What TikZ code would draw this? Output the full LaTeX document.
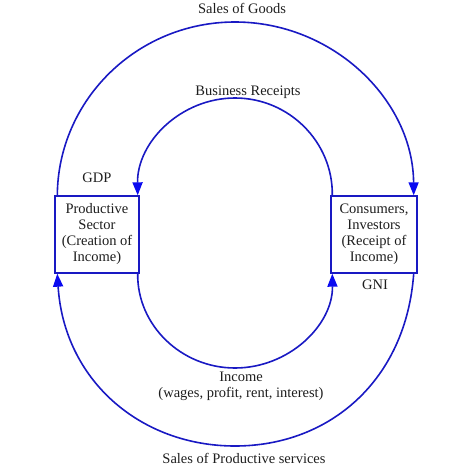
\documentclass[tikz,border=0pt]{standalone}
\usepackage{fontspec}
\setmainfont{Liberation Serif}
\usetikzlibrary{arrows.meta,calc}
\definecolor{flowblue}{RGB}{25,25,195}
\definecolor{tipblue}{RGB}{10,10,240}
\definecolor{txt}{RGB}{30,30,30}
\begin{document}
\begin{tikzpicture}[x=1pt,y=-1pt,
  sector/.style={draw=flowblue,line width=1.4pt,fill=white,minimum width=84pt,minimum height=77pt,inner sep=0pt,align=center,text=txt,font=\fontsize{14.5}{16}\selectfont},
  flow/.style={draw=flowblue,line width=1.6pt,-{Triangle[length=13pt,width=10pt,fill=tipblue,color=tipblue]}},
  lbl/.style={text=txt,inner sep=1pt,align=center,font=\fontsize{14.5}{16}\selectfont}]
\useasboundingbox (0,0) rectangle (474,474);
\node[sector] (L) at (97,234.5) {Productive\\Sector\\(Creation of\\Income)};
\node[sector,minimum width=86pt] (R) at (374,234.5) {Consumers,\\Investors\\(Receipt of\\Income)};
\coordinate (LTo) at ($(L.north west)+(3,0)$);
\coordinate (LTi) at ($(L.north east)+(-2,0)$);
\coordinate (LBi) at ($(L.south east)+(-2,0)$);
\coordinate (LBo) at ($(L.south west)+(3,0)$);
\coordinate (RTi) at ($(R.north west)+(2,0)$);
\coordinate (RTo) at ($(R.north east)+(-4,0)$);
\coordinate (RBi) at ($(R.south west)+(2,0)$);
\coordinate (RBo) at ($(R.south east)+(-4,0)$);
% outer top: Sales of Goods
\draw[flow] (LTo) .. controls (58,100) and (137,22) .. (235,22) .. controls (333,22) and (413,100) .. (RTo);
% inner top: Business Receipts
\draw[flow] (RTi) .. controls (333,142) and (289,98) .. (235,98) .. controls (181,98) and (137,142) .. (LTi);
% inner bottom: Income
\draw[flow] (LBi) .. controls (137,325) and (181,368) .. (235,368) .. controls (289,368) and (333,325) .. (RBi);
% outer bottom: Sales of Productive services
\draw[flow] (RBo) .. controls (406,380) and (330,446) .. (235,446) .. controls (140,446) and (64,380) .. (LBo);
\node[lbl] (sg) at (242,8) {Sales of Goods};
\node[lbl] (br) at (248,92) {Business Receipts};
\node[lbl] (gdp) at (97,178) {GDP};
\node[lbl] (gni) at (375,285) {GNI};
\node[lbl] (inc) at (241,386) {Income\\(wages, profit, rent, interest)};
\node[lbl] (sps) at (244,458) {Sales of Productive services};
\end{tikzpicture}
\end{document}
